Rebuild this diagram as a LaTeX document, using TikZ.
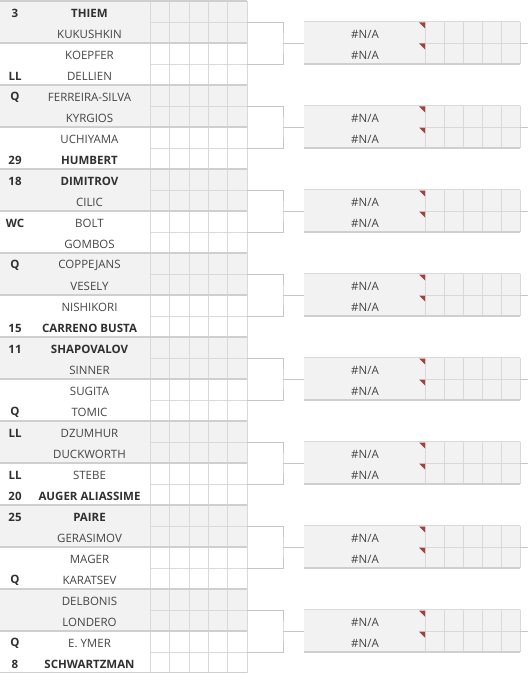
\documentclass[tikz,border=0pt]{standalone}
\usepackage{fontspec}
\setmainfont{Open Sans}
\usepackage{tikz}

\definecolor{cellgray}{HTML}{F2F2F2}
\definecolor{gridgray}{HTML}{D9D9D9}
\definecolor{rulegray}{HTML}{CFCFCF}
\definecolor{linegray}{HTML}{C6C6C6}
\definecolor{namegray}{HTML}{444444}
\definecolor{flagred}{HTML}{A3403A}

\begin{document}
\begin{tikzpicture}[x=1bp, y=-1bp,
    plainname/.style={inner sep=0pt, text=namegray, font=\fontsize{11.5bp}{13bp}\selectfont},
    seedname/.style={inner sep=0pt, text=namegray!70!black, font=\fontsize{11.5bp}{13bp}\selectfont\bfseries},
    pairbox/.style={rectangle, inner sep=0pt, minimum width=97bp, minimum height=42bp},
    roundbox/.style={rectangle, inner sep=0pt, fill=cellgray, minimum width=216bp, minimum height=42bp},
    gridline/.style={draw=gridgray, line width=0.8bp},
    pairrule/.style={draw=rulegray, line width=2.4bp},
    bracket/.style={draw=linegray, line width=0.9bp}
]
\useasboundingbox (0,0) rectangle (528,673);

% First round: shaded pairs
\foreach \p in {0,2,...,14}
  \fill[cellgray] (0,1+42*\p) rectangle (247,43+42*\p);

% Score cells of the first round
\foreach \x in {150,169.5,189,208,227.5,247}
  \draw[gridline] (\x,1) -- (\x,673);
\foreach \i in {0,...,31}
  \draw[gridline] (150,22+21*\i) -- (247,22+21*\i);
\foreach \p in {0,...,16}
  \draw[pairrule] (0,1+42*\p) -- (247,1+42*\p);
\foreach \p in {0,...,15}
  \node[pairbox] (pair\p) at (198.5,22+42*\p) {};

% Players: seed / name / style
\foreach \seed/\name/\wt [count=\i from 0] in {
    3/THIEM/seedname, /KUKUSHKIN/plainname, /KOEPFER/plainname, LL/DELLIEN/plainname,
    Q/FERREIRA-SILVA/plainname, /KYRGIOS/plainname, /UCHIYAMA/plainname, 29/HUMBERT/seedname,
    18/DIMITROV/seedname, /CILIC/plainname, WC/BOLT/plainname, /GOMBOS/plainname,
    Q/COPPEJANS/plainname, /VESELY/plainname, /NISHIKORI/plainname, 15/CARRENO BUSTA/seedname,
    11/SHAPOVALOV/seedname, /SINNER/plainname, /SUGITA/plainname, Q/TOMIC/plainname,
    LL/DZUMHUR/plainname, /DUCKWORTH/plainname, LL/STEBE/plainname, 20/AUGER ALIASSIME/seedname,
    25/PAIRE/seedname, /GERASIMOV/plainname, /MAGER/plainname, Q/KARATSEV/plainname,
    /DELBONIS/plainname, /LONDERO/plainname, Q/E. YMER/plainname, 8/SCHWARTZMAN/seedname}
{
  \node[seedname] (seed\i) at (15,13+21*\i) {\seed};
  \node[\wt] (player\i) at (89.5,13+21*\i) {\name};
}

% Second round boxes and brackets
\foreach \k in {0,...,7} {
  \node[roundbox] (round\k) at (412,43+84*\k) {};
  \foreach \x in {425,444,463,482,501,520}
    \draw[gridline] (\x,22+84*\k) -- (\x,64+84*\k);
  \draw[gridline] (425,43+84*\k) -- (520,43+84*\k);
  \draw[gridline] (round\k.north west) -- (round\k.north east);
  \draw[draw=rulegray, line width=1.6bp] (round\k.south west) -- (round\k.south east);
  \node[plainname] (na\k a) at (365,34+84*\k) {\#N/A};
  \node[plainname] (na\k b) at (365,55+84*\k) {\#N/A};
  % comment flags
  \fill[flagred] (419,22.5+84*\k) -- (425,22.5+84*\k) -- (425,28.5+84*\k) -- cycle;
  \fill[flagred] (419,43.5+84*\k) -- (425,43.5+84*\k) -- (425,49.5+84*\k) -- cycle;
  \coordinate (join\k) at (283,43+84*\k);
  \coordinate (exit\k) at (528,43+84*\k);
  \pgfmathtruncatemacro\pa{2*\k}
  \pgfmathtruncatemacro\pb{2*\k+1}
  \draw[bracket] (pair\pa.east) -| (join\k) |- (pair\pb.east);
  \draw[bracket] (join\k) -- (round\k.west);
  \draw[bracket] (round\k.east) -- (exit\k);
}
\end{tikzpicture}
\end{document}
